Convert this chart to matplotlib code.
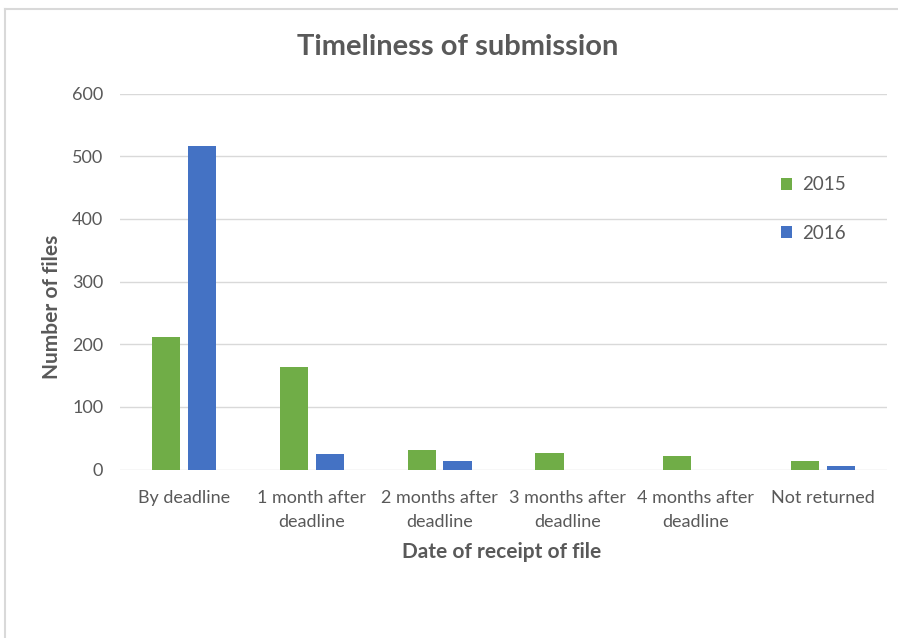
import numpy as np
import matplotlib
matplotlib.use("Agg")
import matplotlib.pyplot as plt
from matplotlib.lines import Line2D

categories = ["By deadline", "1 month after\ndeadline", "2 months after\ndeadline",
              "3 months after\ndeadline", "4 months after\ndeadline", "Not returned"]
files_2015 = [212, 164, 31, 26, 21, 14]
files_2016 = [517, 24, 14, 0, 0, 5]

green = "#70ad47"
blue = "#4472c4"
grey_text = "#595959"
grid_col = "#d9d9d9"

plt.rcParams['font.family'] = ['Lato', 'DejaVu Sans']

fig = plt.figure(figsize=(8.98, 6.38), dpi=100)
ax = fig.add_axes([120 / 898, 1 - 469.5 / 638, (887 - 120) / 898, (469.5 - 93.5) / 638])

# chart area border: only left and top edges are visible in the crop
top = 1 - 9 / 638
left = 5 / 898
fig.add_artist(Line2D([left, 1.0], [top, top], transform=fig.transFigure, color=grid_col, lw=1.5))
fig.add_artist(Line2D([left, left], [0, top], transform=fig.transFigure, color=grid_col, lw=1.5))

x = np.arange(len(categories))
w = 0.22
ax.bar(x - 0.14, files_2015, w, color=green, label="2015", zorder=3)
ax.bar(x + 0.14, files_2016, w, color=blue, label="2016", zorder=3)

ax.set_xlim(-0.5, len(categories) - 0.5)
ax.set_ylim(0, 600)
ax.set_yticks(range(0, 601, 100))
ax.yaxis.grid(True, color=grid_col, lw=1, zorder=0)
for s in ax.spines.values():
    s.set_visible(False)
ax.tick_params(length=0, colors=grey_text, labelsize=13)
ax.tick_params(axis="y", pad=12)
ax.tick_params(axis="x", pad=15)
ax.set_xticks(x)
ax.set_xticklabels(categories, linespacing=1.6)

fig.text(0.5 + 9 / 898, 1 - 47 / 638, "Timeliness of submission", ha="center", va="center",
         fontsize=21, fontweight="bold", color=grey_text)
fig.text(502 / 898, 1 - 552 / 638, "Date of receipt of file", ha="center", va="center",
         fontsize=15, fontweight="bold", color=grey_text)
fig.text(52 / 898, 1 - 307 / 638, "Number of files", ha="center", va="center", rotation=90,
         fontsize=15, fontweight="bold", color=grey_text)

leg = ax.legend(loc="upper left", bbox_to_anchor=(0.84, 0.825), frameon=False, fontsize=13.5,
                labelspacing=1.7, handlelength=0.6, handleheight=0.6, handletextpad=0.5)
for t in leg.get_texts():
    t.set_color(grey_text)

fig.savefig("out.png", dpi=100)
